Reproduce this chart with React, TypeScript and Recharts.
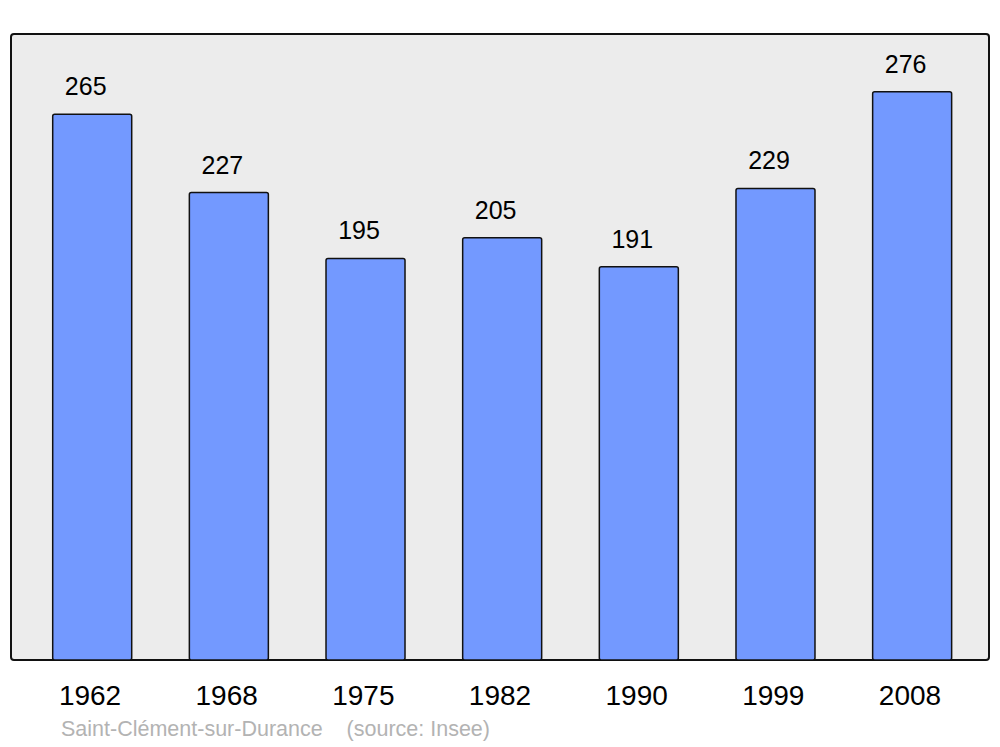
import React from 'react';
import { BarChart, Bar, XAxis, YAxis, LabelList } from 'recharts';

const years = ['1962', '1968', '1975', '1982', '1990', '1999', '2008'];
const population = [265, 227, 195, 205, 191, 229, 276];

const data = years.map((year, i) => ({ year, population: population[i] }));

const FONT = '"Liberation Sans", Arial, sans-serif';

const ValueLabel = (props: any) => {
  const { x, y, width, value } = props;
  return (
    <text
      x={x + width / 2 - 6.5}
      y={y - 19}
      textAnchor="middle"
      fontFamily={FONT}
      fontSize={25}
      fill="#000"
    >
      {value}
    </text>
  );
};

const App = () => {
  return (
    <div style={{ position: 'fixed', left: 0, top: 0, width: 1000, height: 747, background: '#fff', fontFamily: FONT }}>
      <div
        style={{
          position: 'absolute',
          left: 10,
          top: 33,
          width: 976,
          height: 624,
          background: '#ececec',
          border: '2px solid #111',
          borderRadius: 4,
        }}
      />
      <div style={{ position: 'absolute', left: 0, top: 0 }}>
        <BarChart
          width={1000}
          height={747}
          data={data}
          margin={{ top: 34, right: 11, bottom: 0, left: 11 }}
          barSize={79}
        >
          <YAxis hide domain={[0, 304]} />
          <XAxis
            dataKey="year"
            height={87}
            axisLine={false}
            tickLine={false}
            tickSize={0}
            tickMargin={25}
            padding={{ left: 12.7, right: 8.7 }}
            tick={{ fill: '#000', fontSize: 28, fontFamily: FONT, dx: -2 }}
            interval={0}
          />
          <Bar
            dataKey="population"
            fill="#7399ff"
            stroke="#111"
            strokeWidth={1.5}
            radius={2}
            isAnimationActive={false}
          >
            <LabelList dataKey="population" content={<ValueLabel />} />
          </Bar>
        </BarChart>
      </div>
      <div
        style={{
          position: 'absolute',
          left: 61,
          top: 717,
          fontSize: 21.5,
          color: '#b3b3b3',
          whiteSpace: 'pre',
          lineHeight: '24px',
        }}
      >
        {'Saint-Clément-sur-Durance    (source: Insee)'}
      </div>
    </div>
  );
};

export default App;
